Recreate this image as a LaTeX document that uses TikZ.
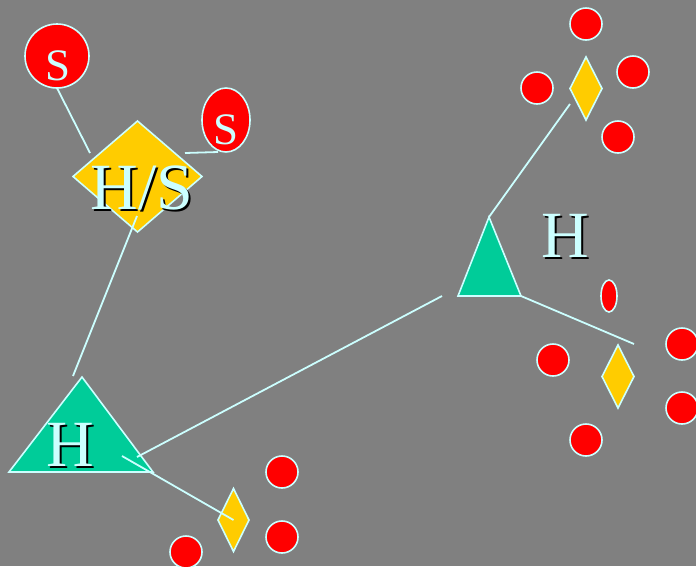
\documentclass[tikz,border=0pt]{standalone}
\usepackage{fontspec}
\setmainfont{Liberation Serif}
\usetikzlibrary{shapes.geometric}
\definecolor{bgGray}{HTML}{808080}
\definecolor{lineCyan}{HTML}{CCFFFF}
\definecolor{dotRed}{HTML}{FF0000}
\definecolor{diaYellow}{HTML}{FFCC00}
\definecolor{triGreen}{HTML}{00CC99}
% black shadow behind the light letters
\newcommand\shad[1]{\makebox[0pt][l]{\hspace{2pt}\raisebox{-2pt}{\color{black}#1}}#1}
\tikzset{
	wire/.style={draw=lineCyan, line width=1.8pt},
	dot/.style={% small red balls
		draw=lineCyan, fill=dotRed, line width=1.6pt,
		shape=circle, minimum size=32pt, inner sep=0pt, outer sep=0pt
	},
	sball/.style={
		draw=lineCyan, fill=dotRed, line width=1.6pt,
		inner sep=0pt, outer sep=0pt
	},
	sletter/.style={text=lineCyan, inner sep=0pt, font=\fontsize{45}{45}\selectfont},
	gem/.style={
		draw=lineCyan, fill=diaYellow, line width=1.6pt,
		shape=diamond, inner sep=0pt, outer sep=0pt
	},
	tri/.style={draw=lineCyan, fill=triGreen, line width=1.6pt, line join=miter},
	big/.style={text=lineCyan, inner sep=0pt, font=\fontsize{66}{66}\selectfont}
}
\begin{document}
\begin{tikzpicture}[x=1pt,y=-1pt]
	\fill[bgGray] (0,0) rectangle (696,566);
	\useasboundingbox (0,0) rectangle (696,566);
	% H/S group
	\node [sball, circle, minimum size=64pt] (s1) at (57,56) {};
	\node [sletter, anchor=base] (s1label) at (58,80) {S};
	\node [sball, ellipse, minimum width=48pt, minimum height=64pt] (s2) at (226,120) {};
	\node [sletter, anchor=base] (s2label) at (226,144) {S};
	\node [gem, minimum width=129pt, minimum height=111pt] (hs) at (137.5,176.5) {};
	\node [big, anchor=base] (hslabel) at (142,209) {\shad{H/S}};
	% lower left H
	\coordinate (h1top) at (82,377);
	\coordinate (h1left) at (9,472);
	\coordinate (h1right) at (153,472);
	\path [tri] (h1top) -- (h1right) -- (h1left) -- cycle;
	\node [big, anchor=base] (h1label) at (70,466) {\shad{H}};
	\node [gem, minimum width=31pt, minimum height=63pt] (d1) at (233.5,520) {};
	\node [dot] (r1) at (282,472) {};
	\node [dot] (r2) at (282,537) {};
	\node [dot] (r3) at (186,552) {};
	% upper right H
	\coordinate (h2top) at (489,217);
	\coordinate (h2left) at (458,296);
	\coordinate (h2right) at (521,296);
	\path [tri] (h2top) -- (h2right) -- (h2left) -- cycle;
	\node [big, anchor=base] (h2label) at (565,257) {\shad{H}};
	\node [gem, minimum width=32pt, minimum height=63pt] (d2) at (586,88.5) {};
	\node [dot] (r4) at (586,24) {};
	\node [dot] (r5) at (537,88) {};
	\node [dot] (r6) at (633,72) {};
	\node [dot] (r7) at (618,137) {};
	\node [sball, ellipse, minimum width=16pt, minimum height=32pt] (r8) at (609,296) {};
	\node [gem, minimum width=32pt, minimum height=63pt] (d3) at (618,376.5) {};
	\node [dot] (r9) at (553,360) {};
	\node [dot] (r10) at (682,344) {};
	\node [dot] (r11) at (682,408) {};
	\node [dot] (r12) at (586,440) {};
	% connector ends
	\coordinate (c1) at (90,153);
	\coordinate (c2) at (218,152);
	\coordinate (c3) at (185,153);
	\coordinate (c4) at (137,216);
	\coordinate (c5) at (73,376);
	\coordinate (c6) at (137,457);
	\coordinate (c7) at (442,296);
	\coordinate (c8) at (122,456);
	\coordinate (c9) at (570,104);
	\coordinate (c10) at (634,344);
	\draw [wire] (s1.south) -- (c1);
	\draw [wire] (c2) -- (c3);
	\draw [wire] (c4) -- (c5);
	\draw [wire] (c6) -- (c7);
	\draw [wire] (c8) -- (d1.center);
	\draw [wire] (c9) -- (h2top);
	\draw [wire] (h2right) -- (c10);
\end{tikzpicture}
\end{document}
